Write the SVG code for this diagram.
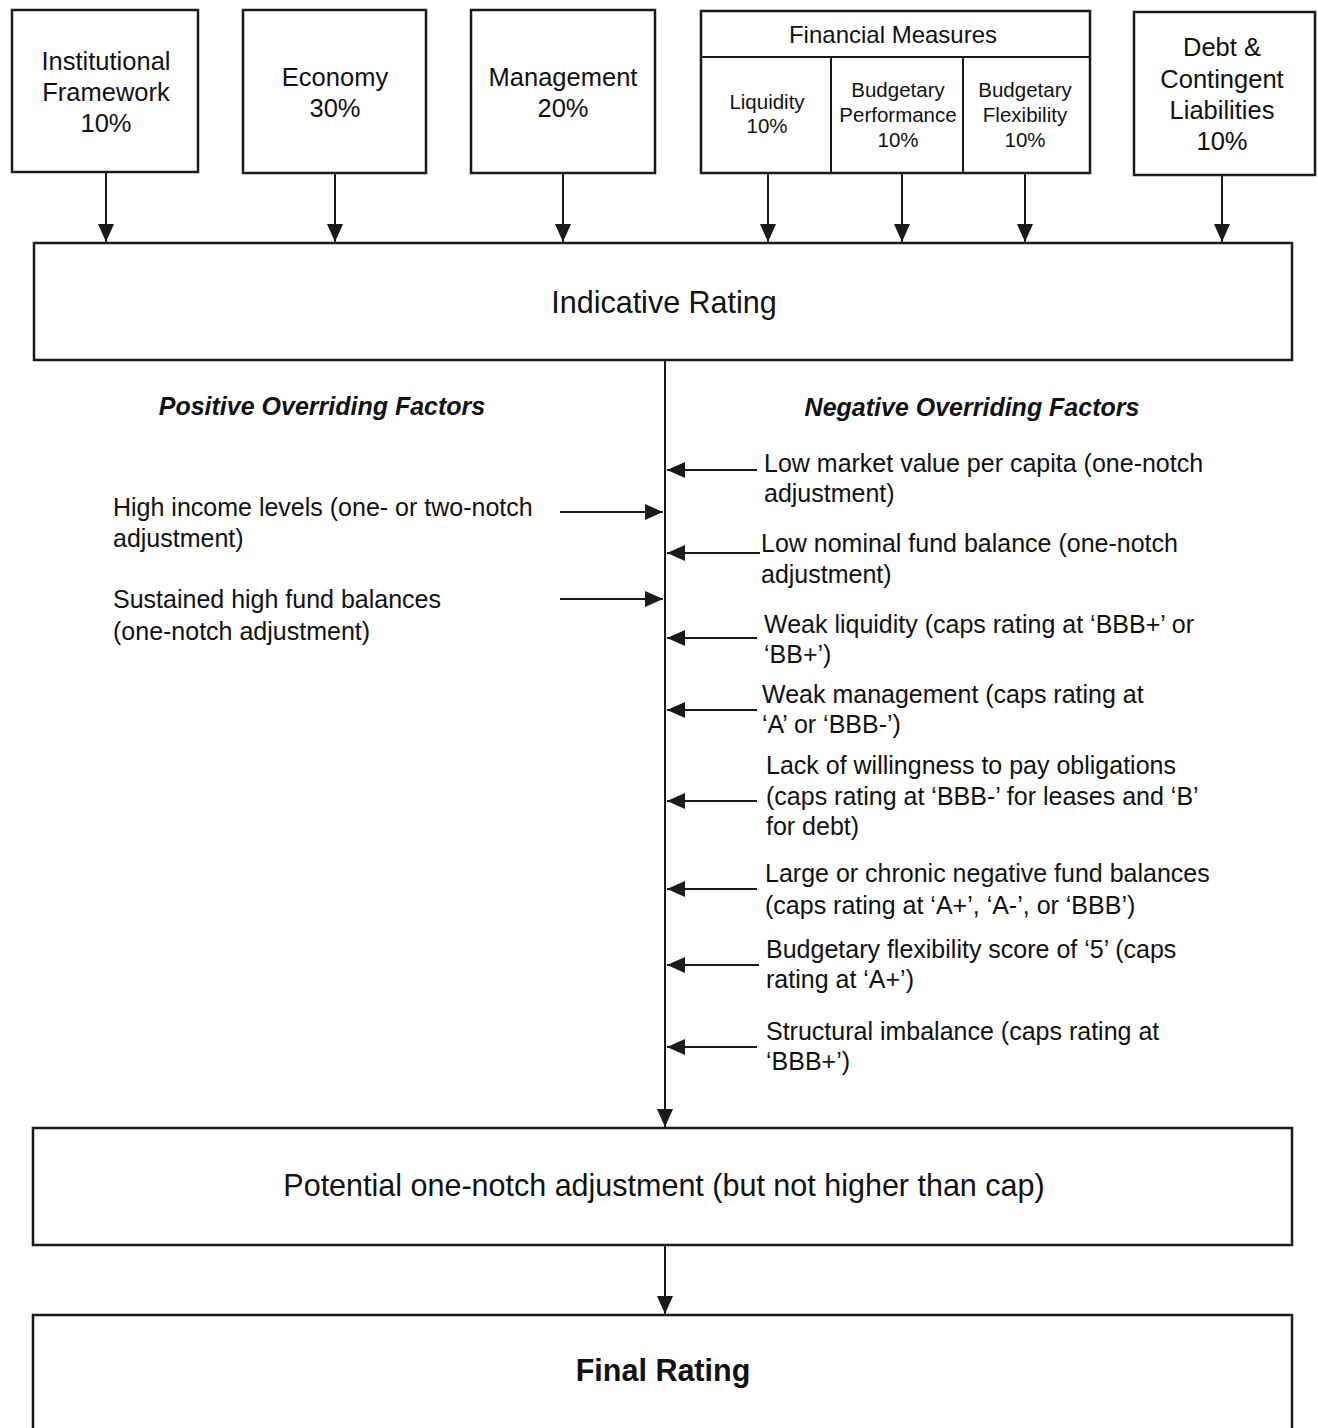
<svg xmlns="http://www.w3.org/2000/svg" width="1318" height="1428" viewBox="0 0 1318 1428">
  <style>
    .box { fill: #ffffff; stroke: #1a1a1a; stroke-width: 2.5; }
    .div { fill: none; stroke: #1a1a1a; stroke-width: 2; }
    .wire { fill: none; stroke: #1a1a1a; stroke-width: 2; }
    text { font-family: "Liberation Sans", Arial, sans-serif; fill: #111111; }
    .lbl { font-size: 25.5px; text-anchor: middle; }
    .sub { font-size: 20.5px; text-anchor: middle; }
    .big { font-size: 30.5px; text-anchor: middle; }
    .item { font-size: 25px; }
    .head { font-size: 25px; font-weight: bold; font-style: italic; text-anchor: middle; }
  </style>
  <defs>
    <marker id="tri" viewBox="0 0 18 16" refX="18" refY="8" markerWidth="18" markerHeight="16" markerUnits="userSpaceOnUse" orient="auto">
      <path d="M0,0 L18,8 L0,16 Z" fill="#1a1a1a"/>
    </marker>
  </defs>
  <rect width="1318" height="1428" fill="#ffffff"/>

  <!-- input factor boxes -->
  <g id="institutional">
    <rect class="box" x="12" y="10" width="186" height="162"/>
    <text class="lbl" x="106" y="70">Institutional</text>
    <text class="lbl" x="106" y="101">Framework</text>
    <text class="lbl" x="106" y="132">10%</text>
  </g>
  <g id="economy">
    <rect class="box" x="243" y="10" width="183" height="163"/>
    <text class="lbl" x="335" y="86">Economy</text>
    <text class="lbl" x="335" y="117">30%</text>
  </g>
  <g id="management">
    <rect class="box" x="471" y="10" width="184" height="163"/>
    <text class="lbl" x="563" y="86">Management</text>
    <text class="lbl" x="563" y="117">20%</text>
  </g>
  <g id="financial-measures">
    <rect class="box" x="701" y="11" width="389" height="162"/>
    <line class="div" x1="701" y1="57" x2="1090" y2="57"/>
    <line class="div" x1="831" y1="57" x2="831" y2="173"/>
    <line class="div" x1="963" y1="57" x2="963" y2="173"/>
    <text class="lbl" x="893" y="43" style="font-size:24px">Financial Measures</text>
    <g id="liquidity">
      <text class="sub" x="767" y="109">Liquidity</text>
      <text class="sub" x="767" y="133">10%</text>
    </g>
    <g id="budgetary-performance">
      <text class="sub" x="898" y="97">Budgetary</text>
      <text class="sub" x="898" y="122">Performance</text>
      <text class="sub" x="898" y="147">10%</text>
    </g>
    <g id="budgetary-flexibility">
      <text class="sub" x="1025" y="97">Budgetary</text>
      <text class="sub" x="1025" y="122">Flexibility</text>
      <text class="sub" x="1025" y="147">10%</text>
    </g>
  </g>
  <g id="debt">
    <rect class="box" x="1134" y="12" width="181" height="163"/>
    <text class="lbl" x="1222" y="56">Debt &amp;</text>
    <text class="lbl" x="1222" y="88">Contingent</text>
    <text class="lbl" x="1222" y="119">Liabilities</text>
    <text class="lbl" x="1222" y="150">10%</text>
  </g>

  <!-- rating stages -->
  <g id="indicative-rating">
    <rect class="box" x="34" y="243" width="1258" height="117"/>
    <text class="big" x="664" y="313">Indicative Rating</text>
  </g>
  <g id="potential-adjustment">
    <rect class="box" x="33" y="1128" width="1259" height="117"/>
    <text class="big" x="664" y="1196">Potential one-notch adjustment (but not higher than cap)</text>
  </g>
  <g id="final-rating">
    <rect class="box" x="33" y="1315" width="1259" height="130"/>
    <text class="big" x="663" y="1381" font-weight="bold">Final Rating</text>
  </g>

  <!-- overriding factor headings -->
  <g id="positive-heading">
    <text class="head" x="322" y="415">Positive Overriding Factors</text>
  </g>
  <g id="negative-heading">
    <text class="head" x="972" y="416">Negative Overriding Factors</text>
  </g>

  <!-- positive factors -->
  <g id="pos-income">
    <text class="item" x="113" y="516">High income levels (one- or two-notch</text>
    <text class="item" x="113" y="547">adjustment)</text>
  </g>
  <g id="pos-fund">
    <text class="item" x="113" y="608">Sustained high fund balances</text>
    <text class="item" x="113" y="640">(one-notch adjustment)</text>
  </g>

  <!-- negative factors -->
  <g id="neg-market-value">
    <text class="item" x="764" y="472">Low market value per capita (one-notch</text>
    <text class="item" x="764" y="502">adjustment)</text>
  </g>
  <g id="neg-fund-balance">
    <text class="item" x="761" y="552">Low nominal fund balance (one-notch</text>
    <text class="item" x="761" y="583">adjustment)</text>
  </g>
  <g id="neg-liquidity">
    <text class="item" x="764" y="633">Weak liquidity (caps rating at ‘BBB+’ or</text>
    <text class="item" x="764" y="663">‘BB+’)</text>
  </g>
  <g id="neg-management">
    <text class="item" x="762" y="703">Weak management (caps rating at</text>
    <text class="item" x="762" y="733">‘A’ or ‘BBB-’)</text>
  </g>
  <g id="neg-willingness">
    <text class="item" x="766" y="774">Lack of willingness to pay obligations</text>
    <text class="item" x="766" y="805">(caps rating at ‘BBB-’ for leases and ‘B’</text>
    <text class="item" x="766" y="835">for debt)</text>
  </g>
  <g id="neg-negative-balances">
    <text class="item" x="765" y="882">Large or chronic negative fund balances</text>
    <text class="item" x="765" y="914">(caps rating at ‘A+’, ‘A-’, or ‘BBB’)</text>
  </g>
  <g id="neg-flexibility">
    <text class="item" x="766" y="958">Budgetary flexibility score of ‘5’ (caps</text>
    <text class="item" x="766" y="988">rating at ‘A+’)</text>
  </g>
  <g id="neg-structural">
    <text class="item" x="766" y="1040">Structural imbalance (caps rating at</text>
    <text class="item" x="766" y="1070">‘BBB+’)</text>
  </g>

  <!-- connectors -->
  <g id="connectors">
    <line class="wire" x1="106" y1="172" x2="106" y2="242" marker-end="url(#tri)"/>
    <line class="wire" x1="335" y1="173" x2="335" y2="242" marker-end="url(#tri)"/>
    <line class="wire" x1="563" y1="173" x2="563" y2="242" marker-end="url(#tri)"/>
    <line class="wire" x1="768" y1="173" x2="768" y2="242" marker-end="url(#tri)"/>
    <line class="wire" x1="902" y1="173" x2="902" y2="242" marker-end="url(#tri)"/>
    <line class="wire" x1="1025" y1="173" x2="1025" y2="242" marker-end="url(#tri)"/>
    <line class="wire" x1="1222" y1="175" x2="1222" y2="242" marker-end="url(#tri)"/>

    <line class="wire" x1="665" y1="360" x2="665" y2="1127" marker-end="url(#tri)"/>
    <line class="wire" x1="665" y1="1245" x2="665" y2="1314" marker-end="url(#tri)"/>

    <line class="wire" x1="560" y1="512" x2="663" y2="512" marker-end="url(#tri)"/>
    <line class="wire" x1="560" y1="599" x2="663" y2="599" marker-end="url(#tri)"/>

    <line class="wire" x1="757" y1="470" x2="667" y2="470" marker-end="url(#tri)"/>
    <line class="wire" x1="760" y1="553" x2="667" y2="553" marker-end="url(#tri)"/>
    <line class="wire" x1="757" y1="638" x2="667" y2="638" marker-end="url(#tri)"/>
    <line class="wire" x1="757" y1="710" x2="667" y2="710" marker-end="url(#tri)"/>
    <line class="wire" x1="757" y1="801" x2="667" y2="801" marker-end="url(#tri)"/>
    <line class="wire" x1="757" y1="889" x2="667" y2="889" marker-end="url(#tri)"/>
    <line class="wire" x1="759" y1="965" x2="667" y2="965" marker-end="url(#tri)"/>
    <line class="wire" x1="757" y1="1047" x2="667" y2="1047" marker-end="url(#tri)"/>
  </g>
</svg>
